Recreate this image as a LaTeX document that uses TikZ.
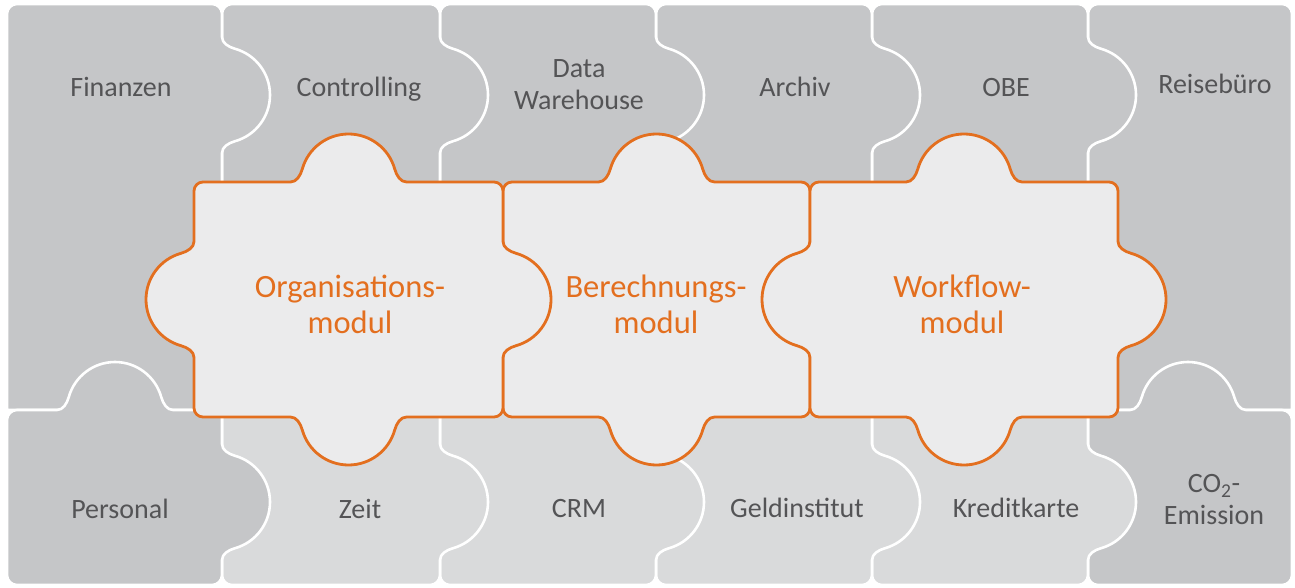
\documentclass[tikz,border=0pt]{standalone}
\usepackage{fontspec}
\setmainfont{Carlito}
\definecolor{gdark}{HTML}{C5C6C8}
\definecolor{glight}{HTML}{D9DADB}
\definecolor{mfill}{HTML}{EBEBEC}
\definecolor{orng}{HTML}{E36F1F}
\definecolor{txt}{HTML}{545456}
% knob on an edge: #1,#2 centre on edge; (#3,#4) path direction; (#5,#6) bulge direction
\newcommand\knob[6]{%
 -- ({#1+(-58)*(#3)},{#2+(-58)*(#4)})
 .. controls ({#1+(-52)*(#3)},{#2+(-52)*(#4)}) and ({#1+(-48.1)*(#3)+(6.3)*(#5)},{#2+(-48.1)*(#4)+(6.3)*(#6)}) .. ({#1+(-46.2)*(#3)+(13)*(#5)},{#2+(-46.2)*(#4)+(13)*(#6)})
 .. controls ({#1+(-40.4)*(#3)+(33.7)*(#5)},{#2+(-40.4)*(#4)+(33.7)*(#6)}) and ({#1+(-21.5)*(#3)+(48)*(#5)},{#2+(-21.5)*(#4)+(48)*(#6)}) .. ({#1+(48)*(#5)},{#2+(48)*(#6)})
 .. controls ({#1+(21.5)*(#3)+(48)*(#5)},{#2+(21.5)*(#4)+(48)*(#6)}) and ({#1+(40.4)*(#3)+(33.7)*(#5)},{#2+(40.4)*(#4)+(33.7)*(#6)}) .. ({#1+(46.2)*(#3)+(13)*(#5)},{#2+(46.2)*(#4)+(13)*(#6)})
 .. controls ({#1+(48.1)*(#3)+(6.3)*(#5)},{#2+(48.1)*(#4)+(6.3)*(#6)}) and ({#1+(52)*(#3)},{#2+(52)*(#4)}) .. ({#1+(58)*(#3)},{#2+(58)*(#4)})}
% rounded corner at (#1,#2), incoming dir (#3,#4), outgoing dir (#5,#6), radius #7
\newcommand\rc[7]{-- ({#1-(#7)*(#3)},{#2-(#7)*(#4)}) .. controls ({#1-0.45*(#7)*(#3)},{#2-0.45*(#7)*(#4)}) and ({#1+0.45*(#7)*(#5)},{#2+0.45*(#7)*(#6)}) .. ({#1+(#7)*(#5)},{#2+(#7)*(#6)})}
\newcommand\ctl[3]{\rc{#1}{#2}{0}{-1}{1}{0}{#3}}
\newcommand\ctr[3]{\rc{#1}{#2}{1}{0}{0}{1}{#3}}
\newcommand\cbr[3]{\rc{#1}{#2}{0}{1}{-1}{0}{#3}}
\newcommand\cbl[3]{\rc{#1}{#2}{-1}{0}{0}{-1}{#3}}
\begin{document}
\begin{tikzpicture}[x=1pt,y=-1pt,
  darkpiece/.style={fill=gdark,draw=white,line width=2.6pt,line join=round},
  lightpiece/.style={fill=glight,draw=white,line width=2.6pt,line join=round},
  module/.style={fill=mfill,draw=orng,line width=2.8pt,line join=round},
  glabel/.style={text=txt,font=\fontsize{28}{32}\selectfont,align=center,inner sep=0pt},
  mlabel/.style={text=orng,font=\fontsize{32.5}{36}\selectfont,align=center,inner sep=0pt}]
\useasboundingbox (0,0) rectangle (1295,588);
% ---- top row (right to left)
\path[darkpiece] (1088,400) \ctl{1088}{4}{10} \ctr{1292}{4}{10} -- (1292,410) -- (1088,410) -- cycle;
\path[darkpiece] (872,200) \ctl{872}{4}{10} \ctr{1088}{4}{10} \knob{1088}{95}{0}{1}{1}{0} -- (1088,300) -- (872,300) -- cycle;
\path[darkpiece] (656,200) \ctl{656}{4}{10} \ctr{872}{4}{10} \knob{872}{95}{0}{1}{1}{0} -- (872,300) -- (656,300) -- cycle;
\path[darkpiece] (440,200) \ctl{440}{4}{10} \ctr{656}{4}{10} \knob{656}{95}{0}{1}{1}{0} -- (656,300) -- (440,300) -- cycle;
\path[darkpiece] (222,200) \ctl{222}{4}{10} \ctr{440}{4}{10} \knob{440}{95}{0}{1}{1}{0} -- (440,300) -- (222,300) -- cycle;
\path[darkpiece] (7,200) \ctl{7}{4}{10} \ctr{222}{4}{10} \knob{222}{95}{0}{1}{1}{0} -- (222,410) -- (7,410) -- cycle;
% ---- bottom row (right to left)
\path[darkpiece] (1088,500) -- (1088,410) \knob{1188}{410}{1}{0}{0}{-1} \ctr{1292}{410}{10} \cbr{1292}{585}{10} \cbl{1088}{585}{10} -- cycle;
\path[lightpiece] (872,500) -- (872,300) -- (1088,300) \knob{1088}{502}{0}{1}{1}{0} \cbr{1088}{585}{10} \cbl{872}{585}{10} -- cycle;
\path[lightpiece] (656,500) -- (656,300) -- (872,300) \knob{872}{502}{0}{1}{1}{0} \cbr{872}{585}{10} \cbl{656}{585}{10} -- cycle;
\path[lightpiece] (440,500) -- (440,300) -- (656,300) \knob{656}{502}{0}{1}{1}{0} \cbr{656}{585}{10} \cbl{440}{585}{10} -- cycle;
\path[lightpiece] (222,500) -- (222,300) -- (440,300) \knob{440}{502}{0}{1}{1}{0} \cbr{440}{585}{10} \cbl{222}{585}{10} -- cycle;
\path[darkpiece] (7,500) \ctl{7}{410}{10} \knob{115}{410}{1}{0}{0}{-1} -- (222,410) \knob{222}{502}{0}{1}{1}{0} \cbr{222}{585}{10} \cbl{7}{585}{10} -- cycle;
% ---- gray labels
\node[glabel,anchor=base] (fin) at (121,97) {Finanzen};
\node[glabel,anchor=base] (con) at (359,97) {Controlling};
\node[glabel] (dwh) at (579,85) {Data\\Warehouse};
\node[glabel,anchor=base] (arc) at (795,97) {Archiv};
\node[glabel,anchor=base] (obe) at (1006,97) {OBE};
\node[glabel,anchor=base] (rei) at (1215,94) {Reisebüro};
\node[glabel,anchor=base] (per) at (120,518) {Personal};
\node[glabel,anchor=base] (zei) at (360,518) {Zeit};
\node[glabel,anchor=base] (crm) at (579,517) {CRM};
\node[glabel,anchor=base] (gel) at (797,517) {Geldinstitut};
\node[glabel,anchor=base] (kre) at (1016,517) {Kreditkarte};
\node[glabel] (co2) at (1214,500) {CO\textsubscript{2}-\\Emission};
% ---- modules
\path[module] (503,300) \ctl{503}{182}{9} \knob{656.5}{182}{1}{0}{0}{-1} \ctr{810}{182}{9} \cbr{810}{417}{9} \knob{656.5}{417}{-1}{0}{0}{1} \cbl{503}{417}{9} -- cycle;
\path[module] (194,220) \ctl{194}{182}{9} \knob{348.5}{182}{1}{0}{0}{-1} \ctr{503}{182}{9} \knob{503}{299.5}{0}{1}{1}{0} \cbr{503}{417}{9} \knob{348.5}{417}{-1}{0}{0}{1} \cbl{194}{417}{9} \knob{194}{299.5}{0}{-1}{-1}{0} -- cycle;
\path[module] (810,220) \ctl{810}{182}{9} \knob{964}{182}{1}{0}{0}{-1} \ctr{1118}{182}{9} \knob{1118}{299.5}{0}{1}{1}{0} \cbr{1118}{417}{9} \knob{964}{417}{-1}{0}{0}{1} \cbl{810}{417}{9} \knob{810}{299.5}{0}{-1}{-1}{0} -- cycle;
\node[mlabel] (org) at (350,304) {Organisations-\\modul};
\node[mlabel] (ber) at (656,304) {Berechnungs-\\modul};
\node[mlabel] (wor) at (962,304) {Workflow-\\modul};
\end{tikzpicture}
\end{document}
